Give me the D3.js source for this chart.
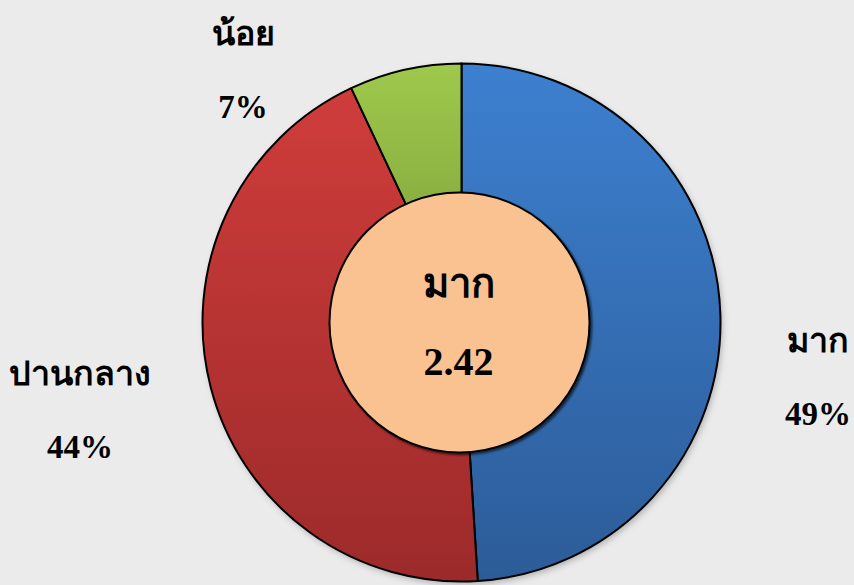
<!DOCTYPE html>
<html>
<head>
<meta charset="utf-8">
<script src="https://cdn.jsdelivr.net/npm/d3@7"></script>
<style>
    body { margin: 0; background: #ebebeb; }
    svg { display: block; }
    .lbl { font-family: "Liberation Serif", "Times New Roman", serif; font-weight: bold; fill: #000; }
</style>
</head>
<body>
<svg id="chart" width="854" height="585"></svg>
<script>
// data
var categories = ["มาก", "ปานกลาง", "น้อย"];
var values = [49, 44, 7];
var centerLevel = "มาก";
var centerScore = "2.42";

// colours per slice: top / bottom of gradient
var topColors = ["#3d80d0", "#cf3d3b", "#9ec94c"];
var bottomColors = ["#2c5c98", "#9c2a2a", "#7b9a38"];

// where each outside label sits
var labelPos = [[818, 352], [80, 385], [243, 45]];

var width = 854, height = 585;
var cx = 461.5, cy = 322.5, outerR = 259, innerR = 130;

var svg = d3.select("#chart");
var defs = svg.append("defs");

categories.forEach(function (c, i) {
    var g = defs.append("linearGradient")
        .attr("id", "grad" + i)
        .attr("x1", 0).attr("y1", 0).attr("x2", 0).attr("y2", 1);
    g.append("stop").attr("offset", "0%").attr("stop-color", topColors[i]);
    g.append("stop").attr("offset", "100%").attr("stop-color", bottomColors[i]);
});

var shadow = defs.append("filter").attr("id", "shadow")
    .attr("x", "-10%").attr("y", "-10%").attr("width", "120%").attr("height", "120%");
shadow.append("feDropShadow")
    .attr("dx", 2).attr("dy", 3).attr("stdDeviation", 3)
    .attr("flood-color", "#000").attr("flood-opacity", 0.25);

var innerShadow = defs.append("filter").attr("id", "innerShadow")
    .attr("x", "-10%").attr("y", "-10%").attr("width", "120%").attr("height", "120%");
innerShadow.append("feDropShadow")
    .attr("dx", 2).attr("dy", 2).attr("stdDeviation", 1)
    .attr("flood-color", "#000").attr("flood-opacity", 0.6);

var pie = d3.pie().sort(null).value(function (d) { return d; });
var arc = d3.arc().innerRadius(0).outerRadius(outerR);

var g = svg.append("g").attr("transform", "translate(" + cx + "," + cy + ")");

g.append("circle")
    .attr("r", outerR)
    .attr("fill", "#ebebeb")
    .attr("filter", "url(#shadow)");

g.selectAll("path.slice")
    .data(pie(values))
    .join("path")
    .attr("class", "slice")
    .attr("d", arc)
    .attr("fill", function (d, i) { return "url(#grad" + i + ")"; })
    .attr("stroke", "#000")
    .attr("stroke-width", 2)
    .attr("stroke-linejoin", "round");

// centre disc
g.append("circle")
    .attr("cx", -2).attr("cy", 0)
    .attr("r", innerR)
    .attr("fill", "#fac191")
    .attr("stroke", "#000")
    .attr("stroke-width", 2)
    .attr("filter", "url(#innerShadow)");

g.append("text").attr("class", "lbl")
    .attr("x", -3).attr("y", -26)
    .attr("text-anchor", "middle")
    .style("font-size", "40px")
    .text(centerLevel);

g.append("text").attr("class", "lbl")
    .attr("x", -3).attr("y", 52)
    .attr("text-anchor", "middle")
    .style("font-size", "40px")
    .text(centerScore);

// outside labels
var labels = svg.append("g");
categories.forEach(function (c, i) {
    var p = labelPos[i];
    labels.append("text").attr("class", "lbl")
        .attr("x", p[0]).attr("y", p[1])
        .attr("text-anchor", "middle")
        .style("font-size", "34px")
        .text(c);
    labels.append("text").attr("class", "lbl")
        .attr("x", p[0]).attr("y", p[1] + 73)
        .attr("text-anchor", "middle")
        .style("font-size", "33px")
        .text(values[i] + "%");
});
</script>
</body>
</html>
